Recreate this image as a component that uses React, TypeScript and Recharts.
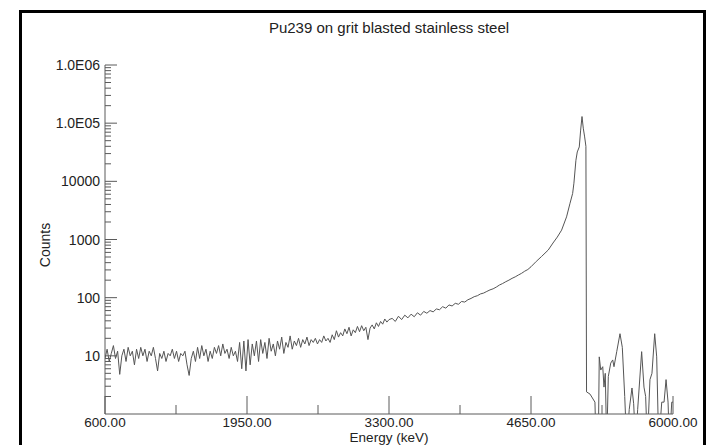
import React from 'react';
import { LineChart, Line, XAxis, YAxis } from 'recharts';

// energy (keV) of each channel
const ENERGY = [
  600, 620, 640, 660, 680, 700, 720, 740, 760, 780, 800, 820, 840, 860, 880, 900, 920, 940, 960, 980,
  1000, 1020, 1040, 1060, 1080, 1100, 1120, 1140, 1160, 1180, 1200, 1220, 1240, 1260, 1280, 1300, 1320, 1340,
  1360, 1380, 1400, 1420, 1440, 1460, 1480, 1500, 1520, 1540, 1560, 1580, 1600, 1620, 1640, 1660, 1680, 1700,
  1720, 1740, 1760, 1780, 1800, 1820, 1840, 1860, 1880, 1900, 1920, 1940,
  1960, 1980, 2000, 2020, 2040, 2060, 2080, 2100, 2120, 2140, 2160, 2180, 2200, 2220, 2240, 2260, 2280, 2300,
  2320, 2340, 2360, 2380, 2400, 2420, 2440, 2460, 2480, 2500, 2520, 2540, 2560, 2580, 2600, 2620, 2640, 2660,
  2680, 2700, 2720, 2740, 2760, 2780, 2800, 2820, 2840, 2860, 2880, 2900, 2920, 2940, 2960, 2980, 3000, 3020,
  3040, 3060, 3080, 3100, 3120, 3140, 3160, 3180, 3200, 3220, 3240, 3260, 3280, 3300,
  3330, 3360, 3390, 3420, 3450, 3480, 3510, 3540, 3570, 3600, 3630, 3660, 3690, 3720, 3750, 3780, 3810, 3840,
  3870, 3900, 3930, 3960, 3990, 4020, 4050, 4080, 4110, 4140, 4170, 4200, 4230, 4260, 4290, 4320, 4350, 4380,
  4410, 4440, 4470, 4500, 4530, 4560, 4590, 4620, 4650,
  4700, 4750, 4814, 4859, 4900, 4941, 4988, 5021, 5046, 5058, 5077, 5090, 5109, 5122, 5135, 5147, 5160, 5172,
  5178, 5211, 5258, 5268, 5290,
  5299, 5313, 5332, 5344, 5356, 5370, 5385, 5408, 5427, 5439, 5465, 5496, 5518, 5541, 5560, 5584, 5610, 5626,
  5645, 5664, 5702, 5724, 5740, 5756, 5781, 5800, 5826, 5845, 5864, 5893, 5915, 5934, 5953, 5966, 5988, 6000,
];

// counts per channel (0.3 stands for empty channels, drawn below the axis and clipped)
const COUNTS = [
  9, 13, 8, 11, 15, 9, 12, 4.8, 10, 13, 8, 14, 10, 12, 7, 13, 9, 14, 10, 13,
  8, 12, 10, 14, 9, 5.5, 11, 9, 12, 8, 11, 10, 13, 9, 12, 8, 11, 10,
  12, 7, 4.6, 9, 12, 8, 14, 9, 15, 10, 13, 8, 12, 9, 14, 11, 15, 10,
  16, 11, 13, 9, 14, 10, 12, 8, 17, 6, 18, 5.5,
  19, 7, 16, 10, 18, 8, 19, 11, 17, 9, 20, 12, 16, 10, 18, 13, 21, 11,
  17, 14, 22, 13, 18, 15, 20, 14, 19, 16, 21, 15, 19, 17, 20, 16, 19, 17,
  22, 18, 20, 17, 23, 19, 27, 21, 25, 22, 29, 24, 31, 22, 28, 25, 32, 26,
  33, 27, 31, 19, 30, 34, 29, 37, 32, 39, 35, 43, 38, 42,
  44, 39, 48, 42, 50, 45, 52, 47, 55, 50, 58, 54, 60, 57, 64, 62, 70, 66,
  75, 72, 80, 77, 86, 84, 92, 97, 104, 108, 116, 120, 128, 136, 142, 152, 165, 175,
  188, 200, 215, 228, 245, 262, 285, 305, 340,
  420, 510, 660, 870, 1100, 1450, 2450, 4200, 6200, 9300, 23000, 32000, 39000, 76000, 130000, 82000, 58000, 40000,
  2.4, 2.2, 1.6, 0.3, 0.3,
  9.6, 5.7, 6.5, 2.9, 5, 0.3, 4.4, 7.5, 8.5, 6.5, 11.8, 24, 14, 2, 0.3, 1.2, 2.8, 1.5,
  0.3, 1.2, 11.8, 2.9, 2, 0.3, 3.9, 5, 24, 9.6, 0.3, 1.6, 1.6, 3.9, 1.6, 0.3, 1.6, 1.6,
];

const X_MAJOR = [600, 1950, 3300, 4650, 6000];
const X_MINOR = [1275, 2625, 3975, 5325];
const X_TICKS = [...X_MAJOR, ...X_MINOR].sort((a, b) => a - b);

const Y_MAJOR = [10, 100, 1000, 10000, 100000, 1000000];
const Y_LABELS = ['10', '100', '1000', '10000', '1.0E05', '1.0E06'];
const Y_DECADES = [1, 10, 100, 1000, 10000, 100000];
const Y_MINOR_MULT = [2, 3, 4, 5, 6, 7, 8, 9];
const Y_TICKS = [...Y_MAJOR, ...Y_DECADES.flatMap((d) => Y_MINOR_MULT.map((m) => m * d))].sort((a, b) => a - b);

const data = ENERGY.map((e, i) => ({ e, c: COUNTS[i] }));

const FONT = '"Liberation Sans", Arial, sans-serif';
const AXIS = '#5a5a5a';

const LeftTick = (props: any) => {
  const { x, y, payload } = props;
  const i = Y_MAJOR.indexOf(payload.value);
  const ax = x + 5;
  return (
    <g>
      <line x1={ax} x2={ax + (i >= 0 ? 12 : 6)} y1={y} y2={y} stroke={AXIS} />
      {i >= 0 && (
        <text x={x} y={y} dy={5} textAnchor="end" fontSize={14} fontFamily={FONT} fill="#222">
          {Y_LABELS[i]}
        </text>
      )}
    </g>
  );
};

const RightTick = (props: any) => {
  const { x, y, payload } = props;
  const major = Y_MAJOR.includes(payload.value);
  return <line x1={x} x2={x - (major ? 12 : 6)} y1={y} y2={y} stroke={AXIS} />;
};

const BottomTick = (props: any) => {
  const { x, y, payload } = props;
  const major = X_MAJOR.includes(payload.value);
  return (
    <g>
      <line x1={x} x2={x} y1={y} y2={y - (major ? 18 : 9)} stroke={AXIS} />
      {major && (
        <text x={x} y={y} dy={13} textAnchor="middle" fontSize={13.5} fontFamily={FONT} fill="#222">
          {payload.value.toFixed(2)}
        </text>
      )}
    </g>
  );
};

const TopTick = (props: any) => {
  const { x, y, payload } = props;
  const major = X_MAJOR.includes(payload.value);
  return <line x1={x} x2={x} y1={y} y2={y + (major ? 18 : 9)} stroke={AXIS} />;
};

export default function App() {
  return (
    <div style={{ position: 'absolute', left: 0, top: 0, width: 706, height: 445, overflow: 'hidden', background: '#fff', fontFamily: FONT }}>
      <div style={{ position: 'absolute', left: 19, top: 10, width: 681, height: 500, borderLeft: '3px solid #000', borderTop: '3px solid #000', borderRight: '3px solid #000' }} />
      <div style={{ position: 'absolute', left: 0, width: 778, top: 19, textAlign: 'center', fontSize: 15, lineHeight: '17px', color: '#222' }}>
        Pu239 on grit blasted stainless steel
      </div>
      <div style={{ position: 'absolute', left: 45, top: 245, transform: 'translate(-50%, -50%) rotate(-90deg)', fontSize: 14, lineHeight: '15px', color: '#222', whiteSpace: 'nowrap' }}>
        Counts
      </div>
      <div style={{ position: 'absolute', left: 0, width: 778, top: 431, textAlign: 'center', fontSize: 13.5, lineHeight: '13px', color: '#222' }}>
        Energy (keV)
      </div>
      <div style={{ position: 'absolute', left: 0, top: 0 }}>
        <LineChart width={706} height={445} data={data} margin={{ top: 65, right: 33, bottom: 0, left: 0 }}>
          <XAxis
            xAxisId="b"
            dataKey="e"
            type="number"
            domain={[600, 6000]}
            ticks={X_TICKS}
            interval={0}
            height={31}
            tickSize={0}
            tickMargin={0}
            tick={BottomTick}
            axisLine={{ stroke: AXIS }}
            allowDataOverflow
          />
          <XAxis
            xAxisId="t"
            orientation="top"
            type="number"
            domain={[600, 6000]}
            ticks={X_TICKS}
            interval={0}
            height={0}
            tickSize={0}
            tickMargin={0}
            tick={TopTick}
            axisLine={{ stroke: AXIS }}
            allowDataOverflow
          />
          <YAxis
            yAxisId="l"
            scale="log"
            type="number"
            domain={[1, 1000000]}
            ticks={Y_TICKS}
            interval={0}
            width={105}
            tickSize={0}
            tickMargin={5}
            tick={LeftTick}
            axisLine={{ stroke: AXIS }}
            allowDataOverflow
          />
          <YAxis
            yAxisId="r"
            orientation="right"
            scale="log"
            type="number"
            domain={[1, 1000000]}
            ticks={Y_TICKS}
            interval={0}
            width={0}
            tickSize={0}
            tickMargin={0}
            tick={RightTick}
            axisLine={{ stroke: AXIS }}
            allowDataOverflow
          />
          <Line
            xAxisId="b"
            yAxisId="l"
            type="linear"
            dataKey="c"
            stroke="#555"
            strokeWidth={1}
            dot={false}
            isAnimationActive={false}
          />
        </LineChart>
      </div>
    </div>
  );
}
